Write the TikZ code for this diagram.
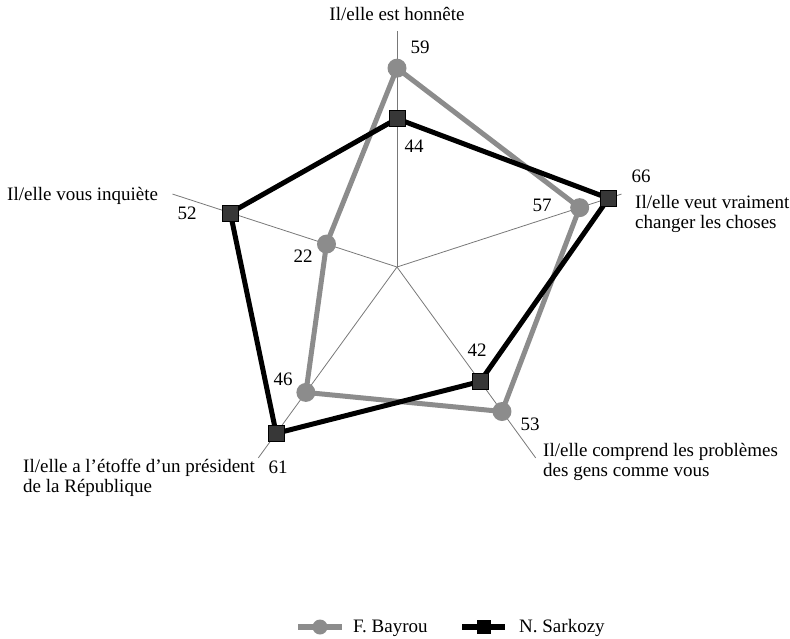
\documentclass[tikz,border=0pt]{standalone}
\usepackage{fontspec}
\setmainfont{Liberation Serif}
\usetikzlibrary{calc}
\definecolor{bay}{RGB}{140,140,140}
\definecolor{sarsq}{RGB}{55,55,55}
\definecolor{axisgray}{RGB}{120,120,120}
\begin{document}
\begin{tikzpicture}[x=1pt,y=-1pt,
  lbl/.style={font=\fontsize{19}{20}\selectfont, inner sep=0pt},
  axisline/.style={draw=axisgray, line width=0.8pt},
  bline/.style={draw=bay, line width=5pt, line join=round},
  sline/.style={draw=black, line width=5pt, line join=miter},
  bmark/.style={circle, fill=bay, minimum size=19pt, inner sep=0pt},
  smark/.style={rectangle, fill=sarsq, draw=black, line width=0.5pt, minimum size=16pt, inner sep=0pt},
]
\useasboundingbox (0,0) rectangle (790,638);
\def\k{3.37}
\coordinate (c) at (397,267);
% axis ends
\coordinate (a1) at ($(c)+(-90:236)$);
\coordinate (a2) at ($(c)+(-18:236)$);
\coordinate (a3) at ($(c)+(54:236)$);
\coordinate (a4) at ($(c)+(126:236)$);
\coordinate (a5) at ($(c)+(198:236)$);
\foreach \i in {1,...,5} {\draw[axisline] (c) -- (a\i);}
% data points
\coordinate (pb1) at ($(c)+(-90:{59*\k})$);
\coordinate (pb2) at ($(c)+(-18:{57*\k})$);
\coordinate (pb3) at ($(c)+(54:{53*\k})$);
\coordinate (pb4) at ($(c)+(126:{46*\k})$);
\coordinate (pb5) at ($(c)+(198:{22*\k})$);
\coordinate (ps1) at ($(c)+(-90:{44*\k})$);
\coordinate (ps2) at ($(c)+(-18:{66*\k})$);
\coordinate (ps3) at ($(c)+(54:{42*\k})$);
\coordinate (ps4) at ($(c)+(126:{61*\k})$);
\coordinate (ps5) at ($(c)+(198:{52*\k})$);
\draw[bline] (pb1) -- (pb2) -- (pb3) -- (pb4) -- (pb5) -- cycle;
\draw[sline] (ps1) -- (ps2) -- (ps3) -- (ps4) -- (ps5) -- cycle;
\foreach \i in {1,...,5} {\node[bmark] (b\i) at (pb\i) {};}
\foreach \i in {1,...,5} {\node[smark] (s\i) at (ps\i) {};}
% value labels
\node[lbl] (v59) at (420,47) {59};
\node[lbl] (v44) at (414,146) {44};
\node[lbl] (v22) at (303,256) {22};
\node[lbl] (v52) at (187,213) {52};
\node[lbl] (v66) at (641,176) {66};
\node[lbl] (v57) at (542,205) {57};
\node[lbl] (v42) at (477,350) {42};
\node[lbl] (v53) at (530,424) {53};
\node[lbl] (v46) at (283,379) {46};
\node[lbl] (v61) at (278,467) {61};
% axis labels (base anchor = baseline of last line)
\node[lbl, anchor=base] (t1) at (397,20) {Il/elle est honnête};
\node[lbl, anchor=base west, align=left] (t2) at (635,228) {Il/elle veut vraiment\\changer les choses};
\node[lbl, anchor=base west, align=left] (t3) at (543,476) {Il/elle comprend les problèmes\\des gens comme vous};
\node[lbl, anchor=base west, align=left] (t4) at (23,492) {Il/elle a l’étoffe d’un président\\de la République};
\node[lbl, anchor=base west] (t5) at (7,200) {Il/elle vous inquiète};
% legend
\coordinate (lb1) at (298,627);
\coordinate (lb2) at (342,627);
\draw[bline, line width=6pt] (lb1) -- (lb2);
\node[bmark, minimum size=15pt] (lbm) at ($(lb1)!0.5!(lb2)$) {};
\node[lbl, anchor=base west] (lbt) at (353,632) {F. Bayrou};
\coordinate (ls1) at (462,627);
\coordinate (ls2) at (505,627);
\draw[sline, line width=6pt] (ls1) -- (ls2);
\node[smark, fill=black, minimum size=13pt] (lsm) at ($(ls1)!0.5!(ls2)$) {};
\node[lbl, anchor=base west] (lst) at (519,632) {N. Sarkozy};
\end{tikzpicture}
\end{document}
